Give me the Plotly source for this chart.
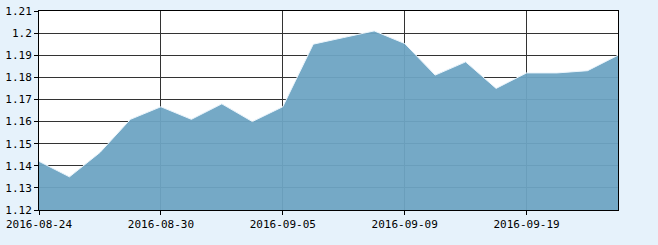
import plotly.graph_objects as go

dates = ["2016-08-24", "2016-08-25", "2016-08-26", "2016-08-29", "2016-08-30",
         "2016-08-31", "2016-09-01", "2016-09-02", "2016-09-05", "2016-09-06",
         "2016-09-07", "2016-09-08", "2016-09-09", "2016-09-12", "2016-09-13",
         "2016-09-14", "2016-09-19", "2016-09-20", "2016-09-21", "2016-09-22"]
values = [1.142, 1.135, 1.146, 1.161, 1.1667, 1.161, 1.168, 1.160, 1.1667, 1.195,
          1.198, 1.201, 1.1953, 1.181, 1.187, 1.175, 1.182, 1.182, 1.183, 1.190]
x_ticks = ["2016-08-24", "2016-08-30", "2016-09-05", "2016-09-09", "2016-09-19"]
y_ticks = [1.12, 1.13, 1.14, 1.15, 1.16, 1.17, 1.18, 1.19, 1.2, 1.21]
y_labels = ["1.12", "1.13", "1.14", "1.15", "1.16", "1.17", "1.18", "1.19", "1.2", "1.21"]

fig = go.Figure()
fig.add_trace(go.Scatter(
    x=dates, y=values, mode="lines", fill="tozeroy",
    fillcolor="rgba(110,164,195,0.95)",
    line=dict(color="rgba(235,245,252,1)", width=1),
    hoverinfo="skip", showlegend=False,
))

font = dict(family="DejaVu Sans Mono, monospace", size=11, color="#000")
fig.update_layout(
    width=658, height=245,
    margin=dict(l=39, r=40, t=11, b=35),
    paper_bgcolor="#e6f2fb", plot_bgcolor="#ffffff",
    font=font,
    xaxis=dict(type="category", categoryorder="array", categoryarray=dates,
               range=[0, len(dates) - 1], tickmode="array", tickvals=x_ticks,
               ticktext=x_ticks, showgrid=True, gridcolor="#333333", gridwidth=1,
               showline=True, linecolor="#000", linewidth=1, mirror=True,
               ticks="outside", ticklen=4, tickcolor="#000", zeroline=False,
               tickfont=font, automargin=False),
    yaxis=dict(range=[1.12, 1.21], tickmode="array", tickvals=y_ticks,
               ticktext=y_labels, showgrid=True, gridcolor="#333333", gridwidth=1,
               showline=True, linecolor="#000", linewidth=1, mirror=True,
               ticks="outside", ticklen=4, tickcolor="#000", zeroline=False,
               tickfont=font, automargin=False),
)
fig.write_html("out.html")
